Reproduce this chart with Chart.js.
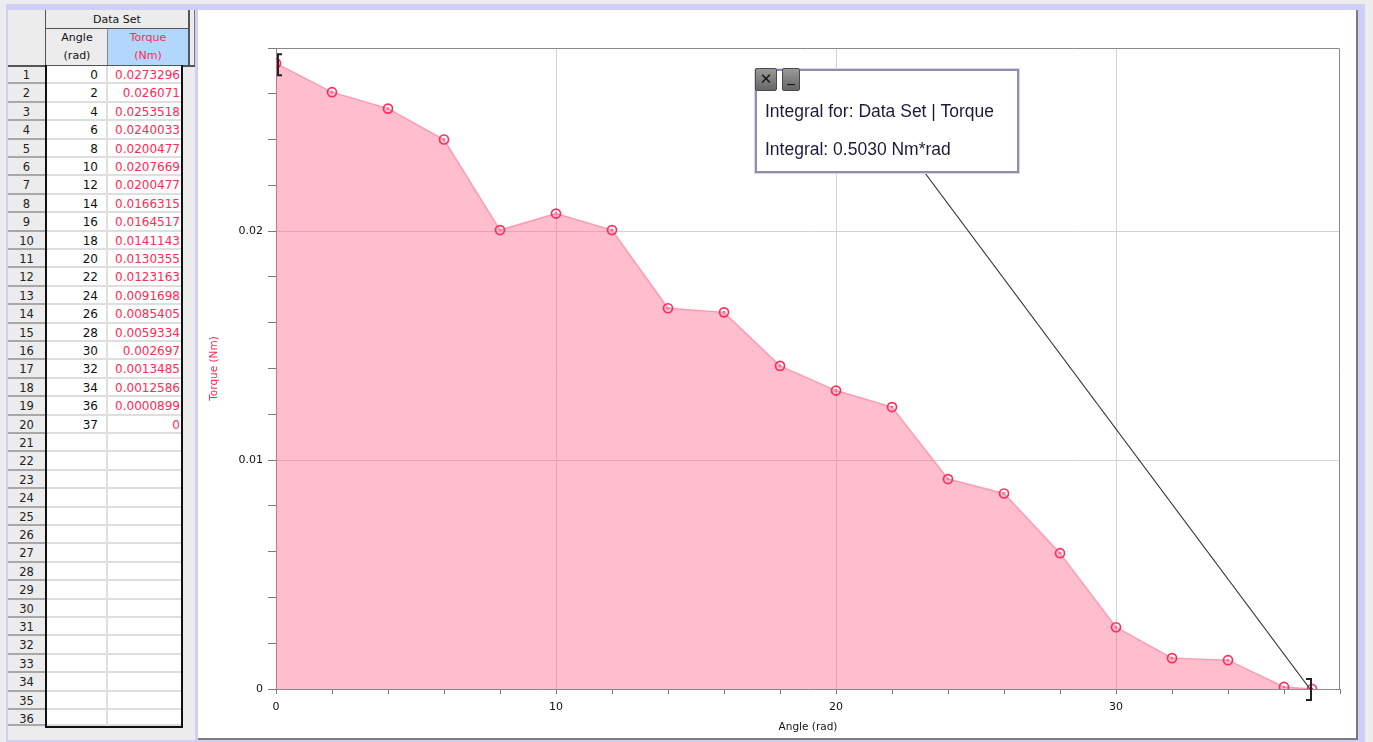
<!DOCTYPE html>
<html>
<head>
<meta charset="utf-8">
<script src="https://cdn.jsdelivr.net/npm/chart.js@4.4.1/dist/chart.umd.min.js"></script>
<style>
  body { margin: 0; width: 1373px; height: 742px; overflow: hidden; background: #ececec; position: relative; font-family: "DejaVu Sans", sans-serif; }
  .abs { position: absolute; box-sizing: border-box; }
  #moldura { left: 6px; top: 4px; width: 1359px; height: 738px; background: #cfcff6; }
  #painelTabela { left: 8px; top: 10px; width: 187px; height: 730px; background: #ececec; }
  #painelGrafico { left: 198px; top: 10px; width: 1160px; height: 730px; background: #fff; border-right: 2px solid #7b7b7b; border-bottom: 2px solid #7b7b7b; }
  #grafico { position: absolute; left: 0; top: 0; }
  .cab { font-size: 11px; text-align: center; color: #111; }
  .num { font-size: 11.5px; text-align: center; color: #222; border-bottom: 2px solid #a8a8a8; }
  .cel { font-size: 12px; text-align: right; border-bottom: 2px solid #dedede; }
  #caixaIntegral { left: 557px; top: 59px; width: 264px; height: 104px; background: #fff; border: 2px solid #8e8ea6; box-shadow: 0 0 0 1px #d4d4f4; }
  .botao { top: -3px; height: 23px; background: linear-gradient(#9a9a9a, #666); border: 1px solid #4a4a4a; border-radius: 2px; color: #111; font: 15px "DejaVu Sans", sans-serif; text-align: center; line-height: 21px; }
  .linhaCaixa { left: 8px; font: 17.5px "Liberation Sans", sans-serif; color: #1c1c3a; white-space: nowrap; }
</style>
</head>
<body>
<div id="moldura" class="abs"></div>
<div id="painelTabela" class="abs"></div>
<div id="tabela"></div>
<div id="painelGrafico" class="abs">
  <canvas id="grafico" width="1158" height="728"></canvas>
  <div id="caixaIntegral" class="abs">
    <div class="abs botao" style="left:-2px;width:22px;">✕</div>
    <div class="abs botao" style="left:25px;width:18px;line-height:14px;">_</div>
    <div id="textoIntegral1" class="abs linhaCaixa" style="top:30px;"></div>
    <div id="textoIntegral2" class="abs linhaCaixa" style="top:68px;"></div>
  </div>
</div>
<script>
const angulos = [0, 2, 4, 6, 8, 10, 12, 14, 16, 18, 20, 22, 24, 26, 28, 30, 32, 34, 36, 37];
const torques = [0.0273296, 0.026071, 0.0253518, 0.0240033, 0.0200477, 0.0207669, 0.0200477, 0.0166315,
                 0.0164517, 0.0141143, 0.0130355, 0.0123163, 0.0091698, 0.0085405, 0.0059334, 0.002697,
                 0.0013485, 0.0012586, 0.0000899, 0];
const rotulosX = [0, 10, 20, 30];
const rotulosY = [0, 0.01, 0.02];
const totalLinhas = 36;

const VERMELHO = '#ff2a55';

document.addEventListener("DOMContentLoaded", function () {
    construirTabela();
    desenharGrafico();
    escreverIntegral();
});

function caixa(pai, estilo, classe, texto) {
    const d = document.createElement('div');
    d.className = 'abs ' + (classe || '');
    d.style.cssText = estilo;
    if (texto !== undefined) d.textContent = texto;
    pai.appendChild(d);
    return d;
}

function construirTabela() {
    const t = document.getElementById('tabela');
    // cabeçalho
    caixa(t, 'left:46px;top:10px;width:142px;height:19px;line-height:19px;border-bottom:1px solid #555;', 'cab', 'Data Set');
    caixa(t, 'left:46px;top:29px;width:62px;height:36px;line-height:18px;', 'cab').innerHTML = 'Angle<br>(rad)';
    caixa(t, 'left:108px;top:29px;width:80px;height:36px;line-height:18px;background:#b3d6fc;color:' + VERMELHO + ';', 'cab').innerHTML = 'Torque<br>(Nm)';
    caixa(t, 'left:45px;top:10px;width:1px;height:56px;background:#555;');
    caixa(t, 'left:107px;top:29px;width:1px;height:37px;background:#888;');
    caixa(t, 'left:188px;top:10px;width:2px;height:56px;background:#555;');
    caixa(t, 'left:194px;top:10px;width:1px;height:56px;background:#777;');
    caixa(t, 'left:8px;top:65px;width:187px;height:2px;background:#555;');

    // linhas
    const topo = 66, alt = 18.4;
    for (let i = 0; i < totalLinhas; i++) {
        const y = topo + i * alt;
        const h = Math.min(alt, 726 - y);
        if (h <= 0) break;
        caixa(t, `left:8px;top:${y}px;width:37px;height:${h}px;line-height:${alt}px;`, 'num', String(i + 1));
        const temDados = i < angulos.length;
        caixa(t, `left:46px;top:${y}px;width:62px;height:${h}px;line-height:${alt}px;padding-right:8px;background:#fff;color:#111;border-right:2px solid #dedede;`, 'cel', temDados ? String(angulos[i]) : '');
        caixa(t, `left:108px;top:${y}px;width:74px;height:${h}px;line-height:${alt}px;padding-right:2px;background:#fff;color:${VERMELHO};`, 'cel', temDados ? String(torques[i]) : '');
    }
    // bordas grossas
    caixa(t, 'left:45px;top:65px;width:2px;height:663px;background:#111;');
    caixa(t, 'left:181px;top:65px;width:2px;height:663px;background:#111;');
    caixa(t, 'left:45px;top:726px;width:138px;height:2px;background:#111;');
}

function eRotulo(lista, v) {
    return lista.some(r => Math.abs(r - v) < 1e-9);
}

function desenharGrafico() {
    const pontos = angulos.map((a, i) => ({ x: a, y: torques[i] }));
    const caixaInt = document.getElementById('caixaIntegral');

    const pluginAnotacoes = {
        id: 'anotacoes',
        afterDraw(chart) {
            const { ctx, chartArea, scales } = chart;
            ctx.save();
            // moldura da área do gráfico
            ctx.strokeStyle = '#8a8a8a';
            ctx.lineWidth = 1;
            ctx.beginPath();
            ctx.moveTo(chartArea.left, chartArea.top + 0.5);
            ctx.lineTo(chartArea.right - 0.5, chartArea.top + 0.5);
            ctx.lineTo(chartArea.right - 0.5, chartArea.bottom);
            ctx.stroke();

            // parênteses do intervalo do integral
            const n = angulos.length - 1;
            const x0 = scales.x.getPixelForValue(angulos[0]);
            const y0 = scales.y.getPixelForValue(torques[0]);
            const xn = scales.x.getPixelForValue(angulos[n]);
            const yn = scales.y.getPixelForValue(torques[n]);
            ctx.strokeStyle = '#222';
            ctx.lineWidth = 2;
            ctx.beginPath();
            ctx.moveTo(x0 + 6, y0 - 9); ctx.lineTo(x0 + 2, y0 - 9);
            ctx.lineTo(x0 + 2, y0 + 12); ctx.lineTo(x0 + 6, y0 + 12);
            ctx.moveTo(xn - 6, yn - 10); ctx.lineTo(xn - 1, yn - 10);
            ctx.lineTo(xn - 1, yn + 11); ctx.lineTo(xn - 6, yn + 11);
            ctx.stroke();

            // ligação entre a caixa e o intervalo
            ctx.strokeStyle = '#333';
            ctx.lineWidth = 1.2;
            ctx.beginPath();
            ctx.moveTo(caixaInt.offsetLeft + 170, caixaInt.offsetTop + caixaInt.offsetHeight);
            ctx.lineTo(xn - 2, yn);
            ctx.stroke();
            ctx.restore();
        }
    };

    new Chart(document.getElementById('grafico'), {
        type: 'line',
        data: {
            datasets: [
                {
                    label: 'Torque',
                    data: pontos,
                    fill: 'origin',
                    backgroundColor: 'rgba(255,100,135,0.42)',
                    borderColor: 'rgba(250,140,165,0.8)',
                    borderWidth: 1.5,
                    tension: 0,
                    pointRadius: 4.5,
                    pointBorderWidth: 1.7,
                    pointBorderColor: '#ff2c5c',
                    pointBackgroundColor: 'rgba(0,0,0,0)'
                },
                {
                    label: 'centro',
                    data: pontos,
                    showLine: false,
                    fill: false,
                    pointRadius: 1.3,
                    pointBorderWidth: 0,
                    pointBackgroundColor: '#ff2c5c'
                }
            ]
        },
        options: {
            responsive: false,
            animation: false,
            layout: { padding: { top: 38, right: 16, left: 0, bottom: 0 } },
            plugins: { legend: { display: false }, tooltip: { enabled: false } },
            scales: {
                x: {
                    type: 'linear',
                    min: 0,
                    max: 38,
                    afterFit: s => { s.height = 49; },
                    ticks: {
                        stepSize: 2, autoSkip: false, maxRotation: 0, padding: 7,
                        color: '#111', font: { family: 'DejaVu Sans', size: 11 },
                        callback: v => eRotulo(rotulosX, v) ? String(v) : ''
                    },
                    grid: {
                        color: c => (c.tick && eRotulo(rotulosX, c.tick.value)) ? '#d2d2d2' : 'rgba(0,0,0,0)',
                        tickColor: '#7a7a7a', tickLength: 5
                    },
                    border: { color: '#8a8a8a' },
                    title: {
                        display: true, text: 'Angle (rad)', color: '#111',
                        font: { family: 'DejaVu Sans', size: 10.5 }, padding: { top: 0, bottom: 4 }
                    }
                },
                y: {
                    min: 0,
                    max: 0.028,
                    afterFit: s => { s.width = 78; },
                    ticks: {
                        stepSize: 0.002, autoSkip: false, padding: 5,
                        color: '#111', font: { family: 'DejaVu Sans', size: 11 },
                        callback: v => eRotulo(rotulosY, v) ? String(Math.round(v * 100) / 100) : ''
                    },
                    grid: {
                        color: c => (c.tick && eRotulo(rotulosY, c.tick.value)) ? '#d2d2d2' : 'rgba(0,0,0,0)',
                        tickColor: '#7a7a7a', tickLength: 8
                    },
                    border: { color: '#8a8a8a' },
                    title: {
                        display: true, text: 'Torque (Nm)', color: VERMELHO,
                        font: { family: 'DejaVu Sans', size: 10.5 }, padding: { top: 10, bottom: 0 }
                    }
                }
            }
        },
        plugins: [pluginAnotacoes]
    });
}

function escreverIntegral() {
    // regra dos trapézios sobre os pontos
    let soma = 0;
    for (let i = 1; i < angulos.length; i++) {
        soma += (angulos[i] - angulos[i - 1]) * (torques[i] + torques[i - 1]) / 2;
    }
    document.getElementById('textoIntegral1').textContent = 'Integral for: Data Set | Torque';
    document.getElementById('textoIntegral2').textContent = 'Integral: ' + soma.toFixed(4) + ' Nm*rad';
}
</script>
</body>
</html>
